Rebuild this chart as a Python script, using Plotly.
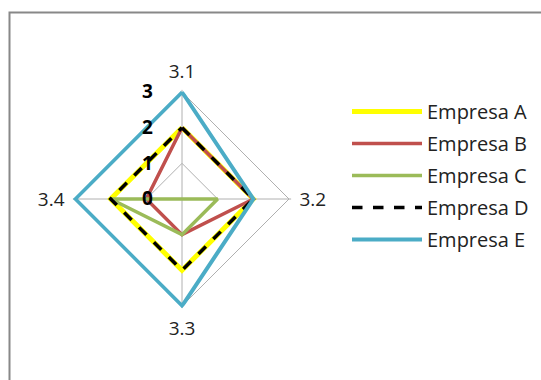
import plotly.graph_objects as go

categories = ["3.1", "3.2", "3.3", "3.4"]
series_names = ["Empresa A", "Empresa B", "Empresa C", "Empresa D", "Empresa E"]
empresa_a = [2, 2, 2, 2]
empresa_b = [2, 2, 1, 1]
empresa_c = [0, 1, 1, 2]
empresa_d = [2, 2, 2, 2]
empresa_e = [3, 2, 3, 3]
radial_ticks = [0, 1, 2, 3]
radial_max = 3.06

values = [empresa_a, empresa_b, empresa_c, empresa_d, empresa_e]
styles = [
    dict(color="#FFFF00", width=5, dash="solid"),
    dict(color="#C0504D", width=3.5, dash="solid"),
    dict(color="#9BBB59", width=3.5, dash="solid"),
    dict(color="#000000", width=3.5, dash="dash"),
    dict(color="#4BACC6", width=4, dash="solid"),
]

W, H = 541, 380
cx, cy = 182, 199
R = 107 * radial_max / 3

fig = go.Figure()
for name, vals, st in zip(series_names, values, styles):
    fig.add_trace(go.Scatterpolar(
        r=vals + vals[:1],
        theta=categories + categories[:1],
        mode="lines",
        name=name,
        legendgroup=name,
        line=st,
    ))

fig.update_layout(
    width=W, height=H,
    margin=dict(l=0, r=0, t=0, b=0),
    paper_bgcolor="white",
    plot_bgcolor="white",
    font=dict(family="Open Sans, sans-serif", size=19, color="#222222"),
    polar=dict(
        domain=dict(x=[(cx - R) / W, (cx + R) / W], y=[(H - cy - R) / H, (H - cy + R) / H]),
        bgcolor="white",
        gridshape="linear",
        angularaxis=dict(
            rotation=90, direction="clockwise",
            categoryarray=categories, categoryorder="array",
            showline=False,
            gridcolor="#B0B0B0", gridwidth=1,
            ticks="outside", ticklen=4, tickcolor="rgba(0,0,0,0)",
            tickfont=dict(size=19, color="#222222"),
        ),
        radialaxis=dict(
            range=[0, radial_max], tickvals=radial_ticks, angle=90,
            showline=False, gridcolor="#B0B0B0", gridwidth=1,
            ticks="outside", ticklen=22, tickcolor="rgba(0,0,0,0)",
            tickangle=90, side="counterclockwise", layer="above traces",
            tickfont=dict(size=19, color="#000000", family="Open Sans, sans-serif", weight="bold"),
        ),
    ),
    legend=dict(
        x=347 / W, y=1 - 92 / H, xanchor="left", yanchor="top",
        font=dict(size=20, color="#222222"),
        tracegroupgap=3, itemwidth=70,
        bgcolor="rgba(0,0,0,0)",
    ),
    shapes=[dict(type="rect", xref="paper", yref="paper",
                 x0=9.5 / W, x1=1.05, y0=-0.05, y1=1 - 12.5 / H,
                 line=dict(color="#888888", width=2))],
    showlegend=True,
)

fig.write_html("out.html")
